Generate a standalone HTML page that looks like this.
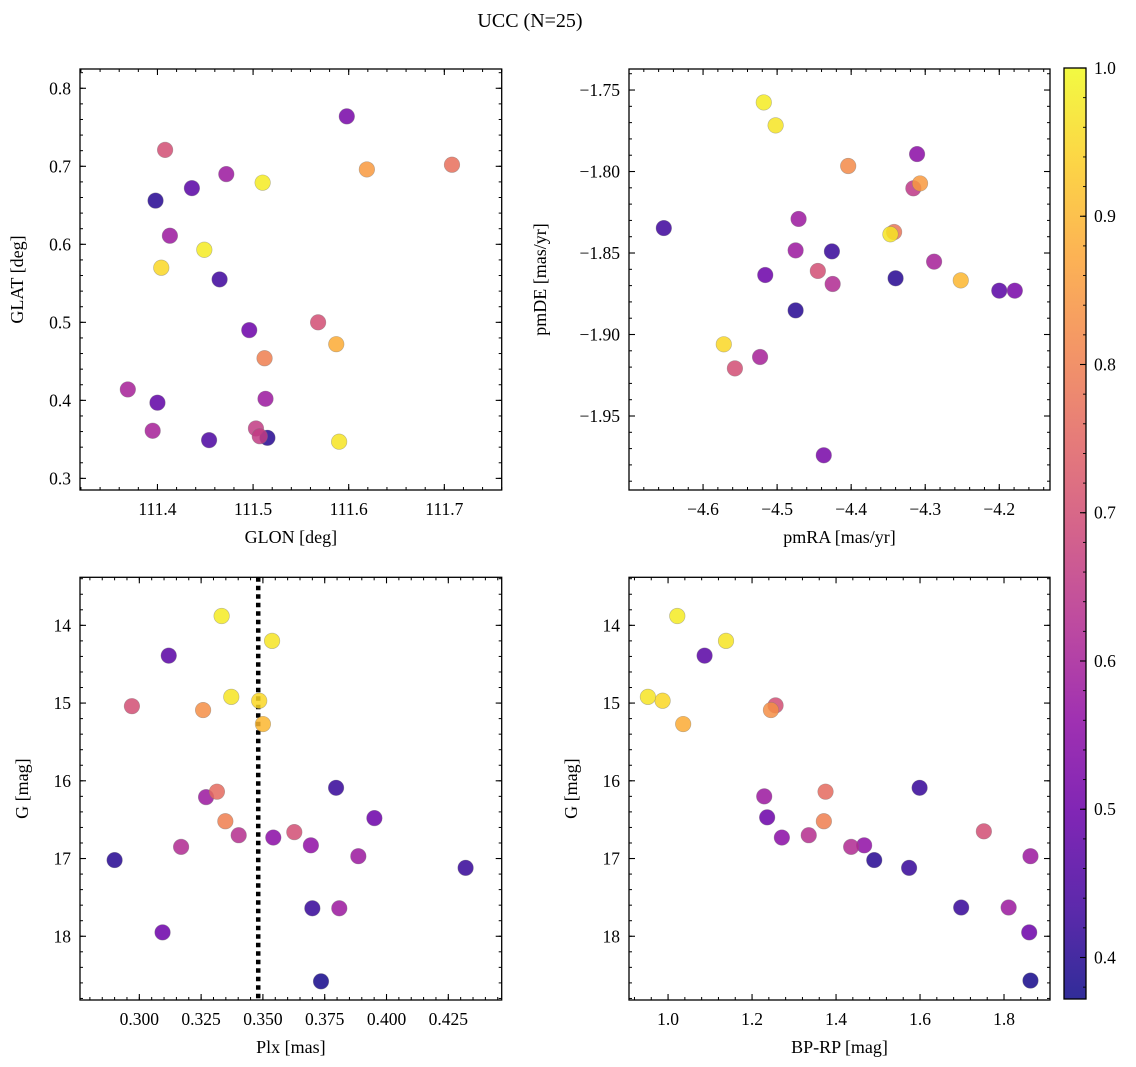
<!DOCTYPE html>
<html><head><meta charset="utf-8">
<style>
html,body{margin:0;padding:0;background:#fff;}
svg{display:block;font-family:"Liberation Serif","DejaVu Serif",serif;}
</style></head>
<body>
<svg id="fig" width="1136" height="1067" viewBox="0 0 1136 1067" xmlns="http://www.w3.org/2000/svg">
<rect x="0" y="0" width="1136" height="1067" fill="#fff"/>
<text x="530" y="27" text-anchor="middle" font-size="20" fill="#000">UCC (N=25)</text>
<defs>
<linearGradient id="cbgrad" x1="0" y1="1" x2="0" y2="0">
<stop offset="0" stop-color="#0d0887"/><stop offset="0.1" stop-color="#41049d"/><stop offset="0.2" stop-color="#6a00a8"/><stop offset="0.3" stop-color="#8f0da4"/><stop offset="0.4" stop-color="#b12a90"/><stop offset="0.5" stop-color="#cc4778"/><stop offset="0.6" stop-color="#e16462"/><stop offset="0.7" stop-color="#f2844b"/><stop offset="0.8" stop-color="#fca636"/><stop offset="0.9" stop-color="#fcce25"/><stop offset="1" stop-color="#f0f921"/>
</linearGradient>
</defs>
</svg>
<script>
// ---- Panel 1: GLON / GLAT ----
const glon = [111.598,111.408,111.472,111.510,111.619,111.708,111.436,111.398,111.413,111.449,111.404,111.465,111.496,111.568,111.587,111.512,111.369,111.400,111.513,111.395,111.503,111.507,111.454,111.515,111.590];
const glat = [0.764,0.721,0.690,0.679,0.696,0.702,0.672,0.656,0.611,0.593,0.570,0.555,0.490,0.500,0.472,0.454,0.414,0.397,0.402,0.361,0.364,0.354,0.349,0.352,0.347];
const prob1 = [0.52,0.70,0.58,0.98,0.85,0.77,0.47,0.40,0.58,0.98,0.95,0.43,0.50,0.70,0.88,0.80,0.60,0.48,0.58,0.60,0.66,0.66,0.45,0.40,0.97];
// ---- Panel 2: pmRA / pmDE ----
const pmra = [-4.518,-4.502,-4.404,-4.311,-4.316,-4.307,-4.653,-4.471,-4.342,-4.347,-4.475,-4.426,-4.288,-4.516,-4.445,-4.425,-4.340,-4.252,-4.200,-4.179,-4.475,-4.572,-4.523,-4.557,-4.437];
const pmde = [-1.7576,-1.7717,-1.7966,-1.7893,-1.8103,-1.8073,-1.8347,-1.8291,-1.8371,-1.8385,-1.8484,-1.8490,-1.8553,-1.8635,-1.8610,-1.8690,-1.8655,-1.8668,-1.8731,-1.8731,-1.8852,-1.9060,-1.9138,-1.9208,-1.9741];
const prob2 = [0.98,0.97,0.82,0.55,0.65,0.85,0.43,0.58,0.78,0.97,0.58,0.42,0.60,0.50,0.70,0.62,0.40,0.90,0.47,0.52,0.40,0.95,0.60,0.70,0.52];
// ---- Panel 3: Plx / G ----
const plx = [0.3333,0.3537,0.3119,0.2970,0.3258,0.3372,0.3485,0.3500,0.3314,0.3270,0.3796,0.3348,0.3951,0.3402,0.3542,0.3627,0.3694,0.3169,0.3886,0.2900,0.4320,0.3700,0.3809,0.3094,0.3735];
const gmag3 = [13.88,14.20,14.39,15.04,15.09,14.92,14.97,15.27,16.14,16.21,16.09,16.52,16.48,16.70,16.73,16.66,16.83,16.85,16.97,17.02,17.12,17.64,17.64,17.95,18.58];
const prob3 = [0.98,0.97,0.47,0.70,0.83,0.97,0.95,0.90,0.76,0.58,0.42,0.80,0.50,0.63,0.55,0.70,0.56,0.62,0.58,0.40,0.42,0.42,0.58,0.50,0.38];
const plxLine = [0.3481];
// ---- Panel 4: BP-RP / G ----
const bprp = [1.022,1.138,1.087,0.952,0.987,1.036,1.256,1.245,1.229,1.375,1.599,1.236,1.371,1.271,1.335,1.436,1.467,1.491,1.574,1.752,1.863,1.698,1.811,1.860,1.863];
const gmag4 = [13.88,14.20,14.39,14.92,14.97,15.27,15.03,15.09,16.20,16.14,16.09,16.47,16.52,16.73,16.70,16.85,16.83,17.02,17.12,16.65,16.97,17.63,17.63,17.95,18.57];
const prob4 = [0.98,0.97,0.47,0.97,0.95,0.88,0.70,0.83,0.58,0.76,0.42,0.50,0.80,0.55,0.63,0.62,0.56,0.40,0.42,0.70,0.58,0.42,0.58,0.50,0.38];
// ---- Colorbar ----
const cbTicks = [0.4,0.5,0.6,0.7,0.8,0.9,1.0];
const cbMin = 0.372, cbMax = 1.0;

const NS = "http://www.w3.org/2000/svg";
const svg = document.getElementById('fig');
function mk(tag, attrs, parent){ const e=document.createElementNS(NS,tag); for(const k in attrs) e.setAttribute(k,attrs[k]); (parent||svg).appendChild(e); return e; }

const stops=[[13,8,135],[65,4,157],[106,0,168],[143,13,164],[177,42,144],[204,71,120],[225,100,98],[242,132,75],[252,166,54],[252,206,37],[240,249,33]];
function plasma(p){
  let t=(p-cbMin)/(cbMax-cbMin); t=Math.max(0,Math.min(1,t))*10;
  const i=Math.min(9,Math.floor(t)), f=t-i;
  const c=stops[i].map((v,k)=>Math.round(v+(stops[i+1][k]-v)*f));
  return `rgb(${c[0]},${c[1]},${c[2]})`;
}

function fmt(v,d){ const s=v.toFixed(d); return s.replace('-', '\u2212'); }

function panel(o){
  const g=mk('g',{});
  
  
  const X=v=>o.x0+(v-o.xmin)/(o.xmax-o.xmin)*(o.x1-o.x0);
  const Y=v=>o.y0+(o.ymax-v)/(o.ymax-o.ymin)*(o.y1-o.y0);
  const eps=1e-9;
  for(let v=Math.ceil((o.xmin)/o.xminor-eps)*o.xminor; v<=o.xmax+eps; v+=o.xminor){
    const px=X(v);
    mk('line',{x1:px,x2:px,y1:o.y1,y2:o.y1-3,stroke:'#000','stroke-width':1},g);
    mk('line',{x1:px,x2:px,y1:o.y0,y2:o.y0+3,stroke:'#000','stroke-width':1},g);
  }
  for(let v=Math.ceil((o.ymin)/o.yminor-eps)*o.yminor; v<=o.ymax+eps; v+=o.yminor){
    const py=Y(v);
    mk('line',{x1:o.x0,x2:o.x0+3,y1:py,y2:py,stroke:'#000','stroke-width':1},g);
    mk('line',{x1:o.x1,x2:o.x1-3,y1:py,y2:py,stroke:'#000','stroke-width':1},g);
  }
  o.xticks.forEach(v=>{
    const px=X(v);
    mk('line',{x1:px,x2:px,y1:o.y1,y2:o.y1-6,stroke:'#000','stroke-width':1.1},g);
    mk('line',{x1:px,x2:px,y1:o.y0,y2:o.y0+6,stroke:'#000','stroke-width':1.1},g);
    const t=mk('text',{x:px,y:o.y1+25,'text-anchor':'middle','font-size':17.5,fill:'#000'},g);
    t.textContent=fmt(v,o.xdec);
    
    
  });
  o.yticks.forEach(v=>{
    const py=Y(v);
    mk('line',{x1:o.x0,x2:o.x0+6,y1:py,y2:py,stroke:'#000','stroke-width':1.1},g);
    mk('line',{x1:o.x1,x2:o.x1-6,y1:py,y2:py,stroke:'#000','stroke-width':1.1},g);
    const t=mk('text',{x:o.x0-9,y:py+6,'text-anchor':'end','font-size':17.5,fill:'#000'},g);
    t.textContent=o.yneg?fmt(-v,o.ydec):fmt(v,o.ydec);
    
    
  });
  if(o.vline){
    o.vline.forEach(v=>{
      const l=mk('line',{x1:X(v),x2:X(v),y1:o.y0,y2:o.y1,stroke:'#000','stroke-width':4.5,'stroke-dasharray':'4.5 4'},g);
      
      
    });
  }
  const order=o.xs.map((_,i)=>i).sort((a,b)=>o.ps[a]-o.ps[b]);
  order.forEach(i=>{
    const c=mk('circle',{cx:X(o.xs[i]),cy:Y(o.ys[i]),r:7.8,fill:plasma(o.ps[i]),'fill-opacity':0.85,stroke:'#777','stroke-opacity':0.5,'stroke-width':0.6},g);
    
    
  });
  const f=mk('rect',{x:o.x0,y:o.y0,width:o.x1-o.x0,height:o.y1-o.y0,fill:'none',stroke:'#000','stroke-width':1.3},g);
  
  
  const xl=mk('text',{x:(o.x0+o.x1)/2,y:o.y1+53,'text-anchor':'middle','font-size':18,fill:'#000'},g);
  xl.textContent=o.xlabel;
  
  
  const ycx=o.x0-o.ylabOff, ycy=(o.y0+o.y1)/2;
  const yl=mk('text',{x:ycx,y:ycy,'text-anchor':'middle','font-size':18,fill:'#000',transform:`rotate(-90 ${ycx} ${ycy})`},g);
  yl.textContent=o.ylabel;
  
  
}

panel({name:'glon-glat-panel',x0:80,x1:501.7,y0:69,y1:490,xmin:111.319,xmax:111.760,ymin:0.2851,ymax:0.8247,
  xticks:[111.4,111.5,111.6,111.7],yticks:[0.3,0.4,0.5,0.6,0.7,0.8],xminor:0.02,yminor:0.02,xdec:1,ydec:1,ylabOff:57,
  xs:glon,ys:glat,ps:prob1,xlabel:'GLON [deg]',ylabel:'GLAT [deg]'});
panel({name:'pm-panel',x0:629,x1:1050,y0:69,y1:490,xmin:-4.700,xmax:-4.1315,ymin:-1.9954,ymax:-1.7371,
  xticks:[-4.6,-4.5,-4.4,-4.3,-4.2],yticks:[-1.95,-1.90,-1.85,-1.80,-1.75],xminor:0.02,yminor:0.01,xdec:1,ydec:2,ylabOff:83,
  xs:pmra,ys:pmde,ps:prob2,xlabel:'pmRA [mas/yr]',ylabel:'pmDE [mas/yr]'});
panel({name:'plx-g-panel',x0:80,x1:501.7,y0:577.3,y1:1000,xmin:0.276,xmax:0.4466,ymin:-18.82,ymax:-13.382,yneg:true,
  xticks:[0.300,0.325,0.350,0.375,0.400,0.425],yticks:[-18,-17,-16,-15,-14],xminor:0.005,yminor:0.2,xdec:3,ydec:0,ylabOff:52,
  xs:plx,ys:gmag3.map(v=>-v),ps:prob3,vline:plxLine,xlabel:'Plx [mas]',ylabel:'G [mag]'});
panel({name:'cmd-panel',x0:629,x1:1050,y0:577.3,y1:1000,xmin:0.907,xmax:1.9095,ymin:-18.82,ymax:-13.382,yneg:true,
  xticks:[1.0,1.2,1.4,1.6,1.8],yticks:[-18,-17,-16,-15,-14],xminor:0.04,yminor:0.2,xdec:1,ydec:0,ylabOff:52,
  xs:bprp,ys:gmag4.map(v=>-v),ps:prob4,xlabel:'BP-RP [mag]',ylabel:'G [mag]'});

// colorbar
const cb=mk('g',{});


const cbx0=1064, cbx1=1086, cby0=68, cby1=999;
mk('rect',{x:cbx0,y:cby0,width:cbx1-cbx0,height:cby1-cby0,fill:'url(#cbgrad)','fill-opacity':0.85},cb);
const CY=v=>cby1-(v-cbMin)/(cbMax-cbMin)*(cby1-cby0);
for(let v=0.38; v<=1.0001; v+=0.02){ mk('line',{x1:cbx1,x2:cbx1-3,y1:CY(v),y2:CY(v),stroke:'#000','stroke-width':0.9},cb); }
cbTicks.forEach(v=>{
  mk('line',{x1:cbx1,x2:cbx1-6,y1:CY(v),y2:CY(v),stroke:'#000','stroke-width':1.1},cb);
  const t=mk('text',{x:cbx1+8,y:CY(v)+6,'font-size':17.5,fill:'#000'},cb);
  t.textContent=v.toFixed(1);
  
  
});
mk('rect',{x:cbx0,y:cby0,width:cbx1-cbx0,height:cby1-cby0,fill:'none',stroke:'#000','stroke-width':1.3},cb);
</script>
</body></html>
